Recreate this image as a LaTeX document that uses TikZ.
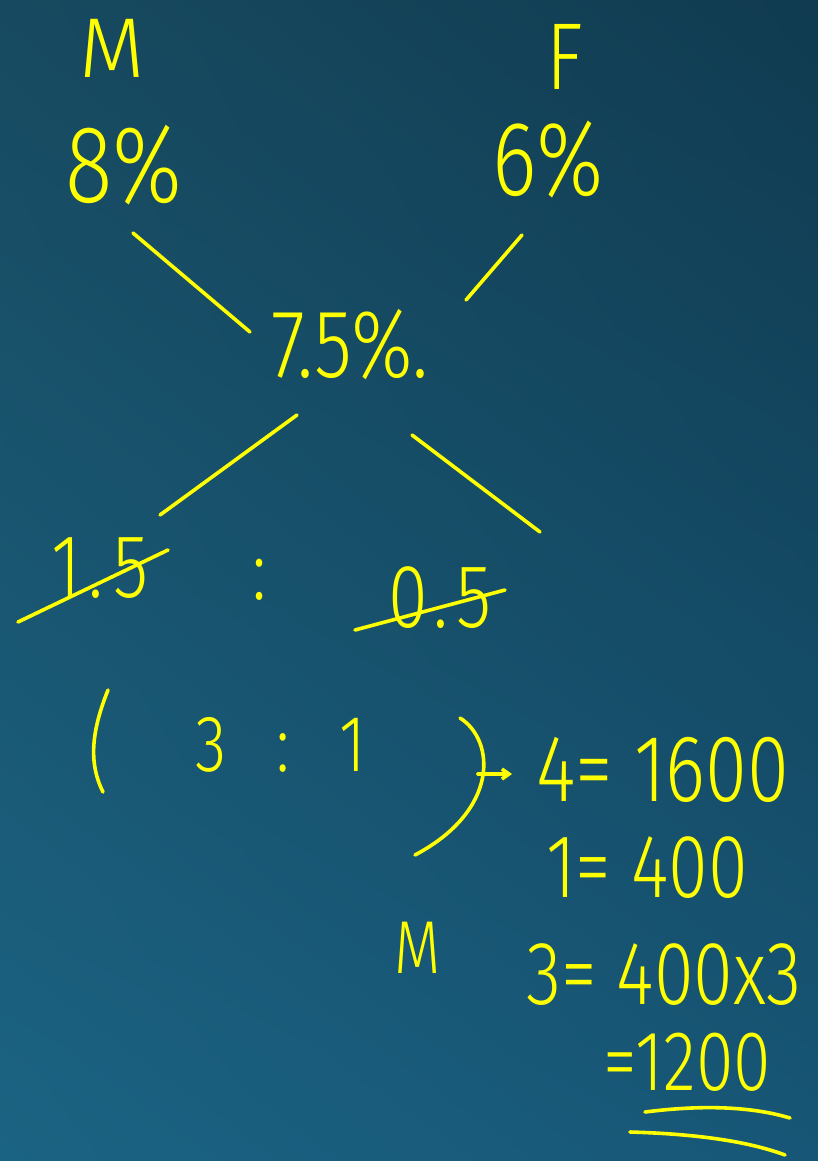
\documentclass[tikz,border=0pt]{standalone}
\usepackage{fontspec}
\setmainfont[FakeStretch=0.8]{Fira Sans Light}
\newfontfamily\widehand{Fira Sans Light}
\usetikzlibrary{arrows.meta,calc,shadings}
\definecolor{boardtl}{HTML}{174A60}
\definecolor{boardtr}{HTML}{103B50}
\definecolor{boardbl}{HTML}{1B6383}
\definecolor{boardbr}{HTML}{175676}
\definecolor{chalk}{HTML}{FFFF00}

\begin{document}
\begin{tikzpicture}[x=1pt,y=1pt,line cap=round,line join=round,
  pen/.style={line width=3.6pt,chalk},
  hand/.style={text=chalk,inner sep=0pt,font=\fontsize{#1}{#1}\selectfont},
  hand/.default=90]
  \shade[upper left=boardtl,upper right=boardtr,lower left=boardbl,lower right=boardbr] (0,0) rectangle (818,-1161);
  \useasboundingbox (0,0) rectangle (818,-1161);

  % ---- the two mixtures and the mean ----
  \node[hand=85] (mtop) at (112,-48) {\widehand M};
  \node[hand=95] (ftop) at (565,-57) {F};
  \node[hand=110] (mpct) at (124,-165) {8\%};
  \node[hand=106] (fpct) at (548,-160) {6\%};
  \node[hand=97] (mean) at (350,-345) {7.5\%.};

  % ---- differences ----
  \node[hand=90] (mpart) at (100,-568) {1\hspace{8pt}.\hspace{10pt}5};
  \node[hand=85] (sep) at (260,-580) {:};
  \node[hand=90] (fpart) at (440,-598) {0\hspace{6pt}.\hspace{8pt}5};

  % ---- cross lines ----
  \draw[pen] ($(mpct)+(9,-68)$) -- ($(mean)+(-100,13)$);
  \draw[pen] ($(fpct)+(-26,-75)$) -- ($(mean)+(116,45)$);
  \draw[pen] ($(mean)+(-53,-70)$) -- ($(mpart)+(60,53)$);
  \draw[pen] ($(mean)+(62,-90)$) -- ($(fpart)+(100,66)$);

  % struck through
  \draw[pen] ($(mpart)+(-82,-54)$) -- ($(mpart)+(68,18)$);
  \draw[pen] ($(fpart)+(-85,-32)$) -- ($(fpart)+(65,8)$);

  % ---- ratio ----
  \node[hand=80] (ratio) at (281,-745) {3\hspace{50pt}:\hspace{50pt}1};
  \draw[pen] ($(ratio)+(-173,55)$) .. controls ($(ratio)+(-189,15)$) and ($(ratio)+(-193,-17)$) .. ($(ratio)+(-178,-47)$);
  \draw[pen] ($(ratio)+(179,27)$) .. controls ($(ratio)+(214,5)$) and ($(ratio)+(219,-65)$) .. ($(ratio)+(134,-110)$);

  % ---- working ----
  \node[hand=95,anchor=west] (r1) at (536,-770) {4= 1600};
  \node[hand=90,anchor=west] (r2) at (546,-868) {1= 400};
  \node[hand=75] (mbot) at (418,-948) {M};
  \node[hand=90,anchor=west] (r3) at (526,-975) {3= 400x3};
  \node[hand=85,anchor=west] (r4) at (603,-1062) {=1200};
  \draw[pen,-{Straight Barb[length=7pt,width=10pt]}] ($(ratio)+(197,-29)$) -- ($(r1.west)+(-24,-4)$);

  % double underline
  \draw[pen] ($(r4.west)+(42,-50)$) .. controls ($(r4.west)+(97,-43)$) and ($(r4.west)+(147,-44)$) .. ($(r4.west)+(187,-56)$);
  \draw[pen] ($(r4.west)+(27,-70)$) .. controls ($(r4.west)+(97,-72)$) and ($(r4.west)+(147,-80)$) .. ($(r4.west)+(182,-93)$);
\end{tikzpicture}
\end{document}
